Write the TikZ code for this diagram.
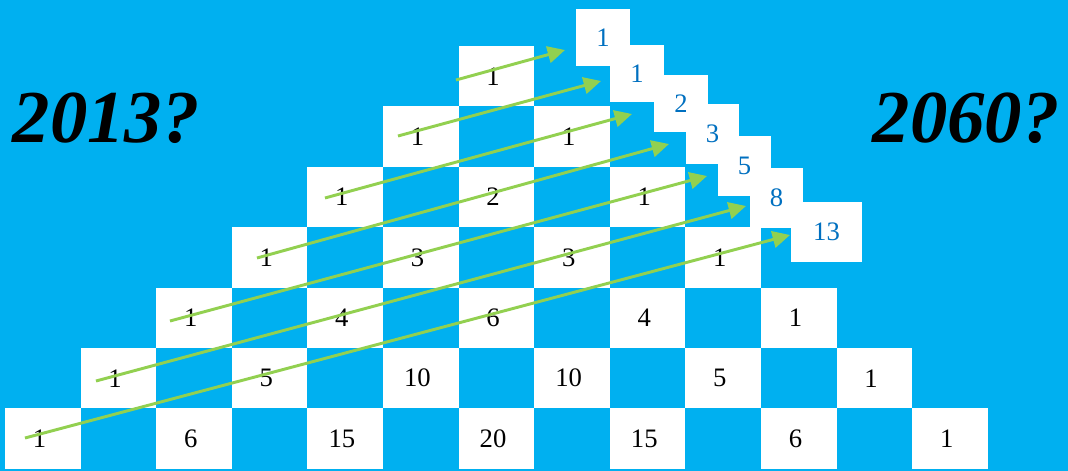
\documentclass[tikz,border=0pt]{standalone}
\usepackage{fontspec}
\setmainfont{Liberation Serif}
\usetikzlibrary{arrows.meta}
\definecolor{skyblue}{HTML}{00B0F0}
\definecolor{fibblue}{HTML}{0070C0}
\definecolor{arrowgreen}{HTML}{92D050}

\begin{document}
\begin{tikzpicture}[x=0.75pt,y=-0.75pt,
    cellnum/.style={font=\fontsize{20}{21}\selectfont,text=black,xshift=-2.5pt},
    fibnum/.style={font=\fontsize{20}{21}\selectfont,text=fibblue},
    fibarrow/.style={line width=2.2pt,draw=arrowgreen,-{Triangle[length=13pt,width=12.5pt]}},
    yearlabel/.style={font=\fontsize{56}{60}\selectfont\bfseries\itshape,anchor=base}]
      \fill[skyblue](0,0)rectangle(1068,471);
      % Pascal rows, checkerboard
      \foreach \n/\vals in {0/{1},1/{1,1},2/{1,2,1},3/{1,3,3,1},4/{1,4,6,4,1},
                           5/{1,5,10,10,5,1},6/{1,6,15,20,15,6,1}}
        \foreach \v [count=\k from 0] in \vals
          \fill[white]({5+75.6*(6-\n+2*\k)},{46+60.4*\n})rectangle++(75.6,60.4)
            node[midway,cellnum](c\n\k){\v};
      % diagonal sums
      \fill[white](576,9)rectangle(630,66) node[midway,fibnum](f1){1};
      \fill[white](610,45)rectangle(664,102) node[midway,fibnum](f2){1};
      \fill[white](654,75)rectangle(708,132) node[midway,fibnum](f3){2};
      \fill[white](686,104)rectangle(739,164) node[midway,fibnum](f4){3};
      \fill[white](718,136)rectangle(771,196) node[midway,fibnum](f5){5};
      \fill[white](750,168)rectangle(803,228) node[midway,fibnum](f6){8};
      \fill[white](791,202)rectangle(862,262) node[midway,fibnum](f7){13};
      \coordinate(a1)at(456,80);  \coordinate(b1)at(565,50);
      \coordinate(a2)at(398,136); \coordinate(b2)at(601,81);
      \coordinate(a3)at(325,198); \coordinate(b3)at(632,114);
      \coordinate(a4)at(257,258); \coordinate(b4)at(669,144);
      \coordinate(a5)at(170,321); \coordinate(b5)at(707,176);
      \coordinate(a6)at(96,381);  \coordinate(b6)at(746,206);
      \coordinate(a7)at(25,438);  \coordinate(b7)at(790,235);
      \foreach \i in {1,...,7}
        \draw[fibarrow](a\i)--(b\i);
      \node[yearlabel](yearleft)at(106,142){2013?};
      \node[yearlabel](yearright)at(966,142){2060?};
    \end{tikzpicture}
\end{document}
